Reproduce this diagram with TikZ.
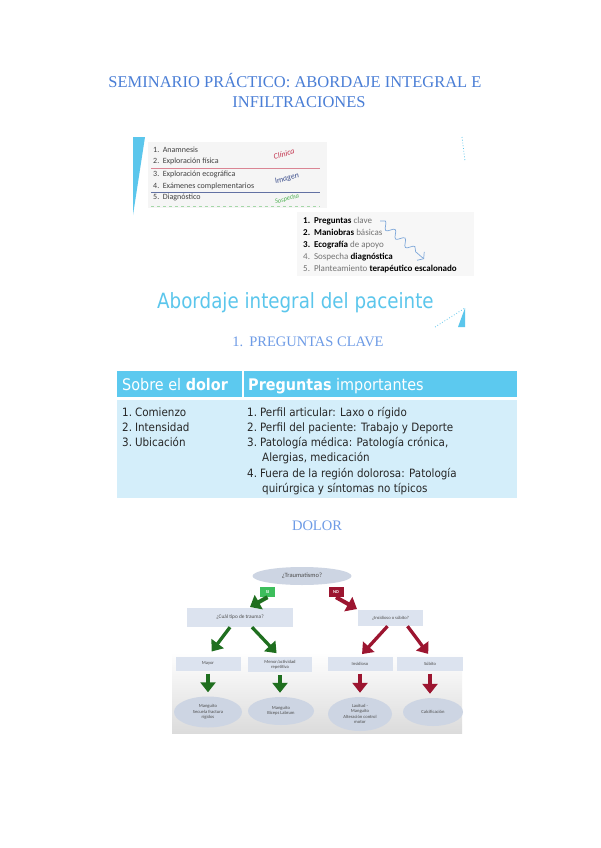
\documentclass[tikz,border=0pt]{standalone}
\usepackage{fontspec}
\setmainfont{Liberation Serif}
\newfontfamily\slidefont{Carlito}
\newfontfamily\tabfont[FakeStretch=0.9]{DejaVu Sans}
\newfontfamily\bigfont[FakeStretch=0.87]{DejaVu Sans}
\usetikzlibrary{arrows.meta,decorations.pathmorphing,shapes.geometric}
\definecolor{titblue}{HTML}{4A7ED6}
\definecolor{headblue}{HTML}{6D9BE6}
\definecolor{cyanhead}{HTML}{5CC9EF}
\definecolor{cyanbody}{HTML}{D4EEFA}
\definecolor{slidecyan}{HTML}{5BC6EC}
\definecolor{clinred}{HTML}{C2334D}
\definecolor{imgblue}{HTML}{3B4E8C}
\definecolor{sospgreen}{HTML}{4CB050}
\definecolor{okgreen}{HTML}{1F6F1F}
\definecolor{sigreen}{HTML}{3DBE5C}
\definecolor{nored}{HTML}{9C1530}
\definecolor{boxfill}{HTML}{DCE3EF}
\definecolor{ellfill}{HTML}{CDD5E3}
\definecolor{squigblue}{HTML}{7DA7D9}
\tikzset{
  titletext/.style={anchor=base, inner sep=0pt, text=titblue, font=\fontsize{16.5}{19}\selectfont},
  subtitle/.style={anchor=base, inner sep=0pt, text=headblue, font=\fontsize{14.5}{17}\selectfont},
  listone/.style={anchor=base west, inner sep=0pt, text=black!75, font=\slidefont\fontsize{8}{10}\selectfont},
  listtwo/.style={anchor=base west, inner sep=0pt, text=black!55, font=\slidefont\fontsize{9}{11}\selectfont},
  tabhead/.style={anchor=base west, inner sep=0pt, text=white, font=\tabfont\fontsize{16}{19}\selectfont},
  tabbody/.style={anchor=base west, inner sep=0pt, text=black!85, font=\tabfont\fontsize{11.5}{14}\selectfont},
  flowbox/.style={fill=boxfill, inner sep=0.5pt, align=center, text=black!70,
    font=\slidefont\fontsize{4.6}{5.4}\selectfont},
  flowell/.style={ellipse, fill=ellfill, inner sep=0pt, align=center, text=black!70,
    font=\slidefont\fontsize{4.6}{5.4}\selectfont},
  garrow/.style={okgreen, line width=3.3pt, -{Triangle[width=15pt,length=10pt]}},
  rarrow/.style={nored, line width=3.3pt, -{Triangle[width=15pt,length=10pt]}},
  tagbox/.style={inner sep=0pt, minimum width=15pt, minimum height=10pt, text=white,
    font=\slidefont\bfseries\fontsize{4.5}{5}\selectfont}
}
\begin{document}
\begin{tikzpicture}[x=1pt,y=-1pt]
  \useasboundingbox (0,0) rectangle (600,848);
  \fill[white] (0,0) rectangle (600,848);
  % titulo
  \node[titletext] (tit1) at (295,88) {SEMINARIO PRÁCTICO: ABORDAJE INTEGRAL E};
  \node[titletext] (tit2) at (299,108) {INFILTRACIONES};
  % diapositiva 1: lista con etiquetas
  \fill[black!4] (148,142) rectangle (327,208);
  \fill[slidecyan] (133,137) -- (145,137) -- (133,215) -- cycle;
  \foreach \n/\txt/\yy in {1/Anamnesis/152.5, 2/Exploración física/163.5,
      3/Exploración ecográfica/176.5, 4/Exámenes complementarios/188.5, 5/Diagnóstico/199.5}
    \node[listone] (li\n) at (153,\yy) {\n.\hspace{3.5pt}\txt};
  \draw[clinred!60, line width=0.8pt] (151,168) -- (320,168);
  \draw[imgblue!80, line width=0.8pt] (151,192) -- (320,192);
  \draw[sospgreen!50, line width=0.8pt, dashed] (151,206) -- (320,206);
  \node[rotate=15, text=clinred, font=\slidefont\itshape\fontsize{8}{10}\selectfont] (clin) at (284,154) {Clínica};
  \node[rotate=15, text=imgblue, font=\slidefont\itshape\fontsize{8}{10}\selectfont] (imag) at (287,179) {Imagen};
  \node[rotate=15, text=sospgreen, font=\slidefont\itshape\fontsize{6.5}{8}\selectfont] (sosp) at (287,199) {Sospecha};
  \draw[slidecyan, dotted, line width=0.8pt] (462,137) -- (465,161);
  % diapositiva 2: pasos
  \fill[black!3] (297,212) rectangle (474,276);
  \node[listtwo] (pa1) at (303,223) {\textcolor{black}{\textbf{1.}\hspace{4pt}\textbf{Preguntas}} clave};
  \node[listtwo] (pa2) at (303,235) {\textcolor{black}{\textbf{2.}\hspace{4pt}\textbf{Maniobras}} básicas};
  \node[listtwo] (pa3) at (303,247) {\textcolor{black}{\textbf{3.}\hspace{4pt}\textbf{Ecografía}} de apoyo};
  \node[listtwo] (pa4) at (303,259) {4.\hspace{4pt}Sospecha \textcolor{black}{\textbf{diagnóstica}}};
  \node[listtwo] (pa5) at (303,271) {5.\hspace{4pt}Planteamiento \textcolor{black}{\textbf{terapéutico escalonado}}};
  \coordinate (sqa) at (380,221);
  \coordinate (sqb) at (424,259);
  \draw[squigblue, line width=0.7pt, decorate,
    decoration={snake, amplitude=3.5pt, segment length=13pt, post length=5pt},
    -{Straight Barb[length=4pt,width=11pt]}] (sqa) -- (sqb);
  % encabezado de la diapositiva
  \node[anchor=base west, inner sep=0pt, text=slidecyan, font=\bigfont\fontsize{21}{24}\selectfont]
    (abord) at (157,308) {Abordaje integral del paceinte};
  \draw[slidecyan, dotted, line width=0.8pt] (435,327) -- (465,308);
  \fill[slidecyan] (458,327) -- (465,308) -- (465,327) -- cycle;
  % 1. preguntas clave
  \node[subtitle] (preg) at (308,346) {1.\hspace{6pt}PREGUNTAS CLAVE};
  % tabla
  \fill[cyanhead] (117,371) rectangle (517,397);
  \fill[cyanbody] (117,400) rectangle (517,498);
  \draw[white, line width=2pt] (243,371) -- (243,397);
  \node[tabhead] (th1) at (122,390) {Sobre el \textbf{dolor}};
  \node[tabhead] (th2) at (248,390) {\textbf{Preguntas} importantes};
  \node[tabbody] (c1) at (122,416) {1.\hspace{3pt}Comienzo};
  \node[tabbody] (c2) at (122,431.3) {2.\hspace{3pt}Intensidad};
  \node[tabbody] (c3) at (122,446.6) {3.\hspace{3pt}Ubicación};
  \node[tabbody] (p1) at (247,416) {1.\hspace{3pt}Perfil articular: Laxo o rígido};
  \node[tabbody] (p2) at (247,431.3) {2.\hspace{3pt}Perfil del paciente: Trabajo y Deporte};
  \node[tabbody] (p3) at (247,446.6) {3.\hspace{3pt}Patología médica: Patología crónica,};
  \node[tabbody] (p3b) at (262,461.9) {Alergias, medicación};
  \node[tabbody] (p4) at (247,477.2) {4.\hspace{3pt}Fuera de la región dolorosa: Patología};
  \node[tabbody] (p4b) at (262,492.5) {quirúrgica y síntomas no típicos};
  % dolor
  \node[subtitle, font=\fontsize{14.5}{17}\selectfont] (dolor) at (317,530) {DOLOR};
  % diagrama de flujo
  \shade[top color=white, bottom color=black!14] (172,652) rectangle (462,733);
  \node[flowell, minimum width=99pt, minimum height=18pt, font=\slidefont\fontsize{6.5}{8}\selectfont]
    (trauma) at (302,576) {¿Traumatismo?};
  \node[flowbox, minimum width=106pt, minimum height=19pt, font=\slidefont\fontsize{5.3}{6}\selectfont]
    (cual) at (240,617.5) {¿Cuál tipo de trauma?};
  \node[flowbox, minimum width=65pt, minimum height=16pt] (insub) at (390.5,618) {¿Insidioso o súbito?};
  \node[tagbox, fill=sigreen] (si) at (267.5,592) {SI};
  \node[tagbox, fill=nored] (no) at (336,592) {NO};
  \coordinate (siend) at (250,607);
  \coordinate (noend) at (357,609);
  \draw[garrow, line width=4pt, -{Triangle[width=16pt,length=10pt]}] (si.south) -- (siend);
  \draw[rarrow, line width=4pt, -{Triangle[width=16pt,length=10pt]}] (no.south) -- (noend);
  \node[flowbox, minimum width=65pt, minimum height=14pt] (mayor) at (208,663.5) {Mayor};
  \node[flowbox, minimum width=64pt, minimum height=15pt] (menor) at (280,664.5) {Menor/actividad\\repetitiva};
  \node[flowbox, minimum width=65pt, minimum height=14pt] (insid) at (360,663.5) {Insidioso};
  \node[flowbox, minimum width=66pt, minimum height=14pt] (subito) at (430,663.5) {Súbito};
  \draw[garrow, shorten >=6pt] ([xshift=-10pt]cual.south) -- (mayor.north);
  \draw[garrow, shorten >=5pt] ([xshift=12pt]cual.south) -- (menor.north);
  \draw[rarrow, shorten >=3pt] ([xshift=-3pt]insub.south) -- (insid.north);
  \draw[rarrow, shorten >=3pt] ([xshift=17pt]insub.south) -- (subito.north);
  \node[flowell, minimum width=68pt, minimum height=31pt] (e1) at (208,712) {Manguito\\Secuela fractura\\rígidos};
  \node[flowell, minimum width=66pt, minimum height=28pt] (e2) at (281,711) {Manguito\\Biceps Labrum};
  \node[flowell, minimum width=64pt, minimum height=34pt] (e3) at (360,714) {Laxitud -\\Manguito\\Alteración control\\motor};
  \node[flowell, minimum width=60pt, minimum height=28pt] (e4) at (433,712) {Calcificación};
  \draw[garrow, shorten <=3pt, shorten >=4pt] (mayor.south) -- (mayor.south |- e1.north);
  \draw[garrow, shorten <=3pt, shorten >=4pt] (menor.south) -- (menor.south |- e2.north);
  \draw[rarrow, shorten <=3pt, shorten >=4pt] (insid.south) -- (insid.south |- e3.north);
  \draw[rarrow, shorten <=3pt, shorten >=4pt] (subito.south) -- (subito.south |- e4.north);
\end{tikzpicture}
\end{document}
